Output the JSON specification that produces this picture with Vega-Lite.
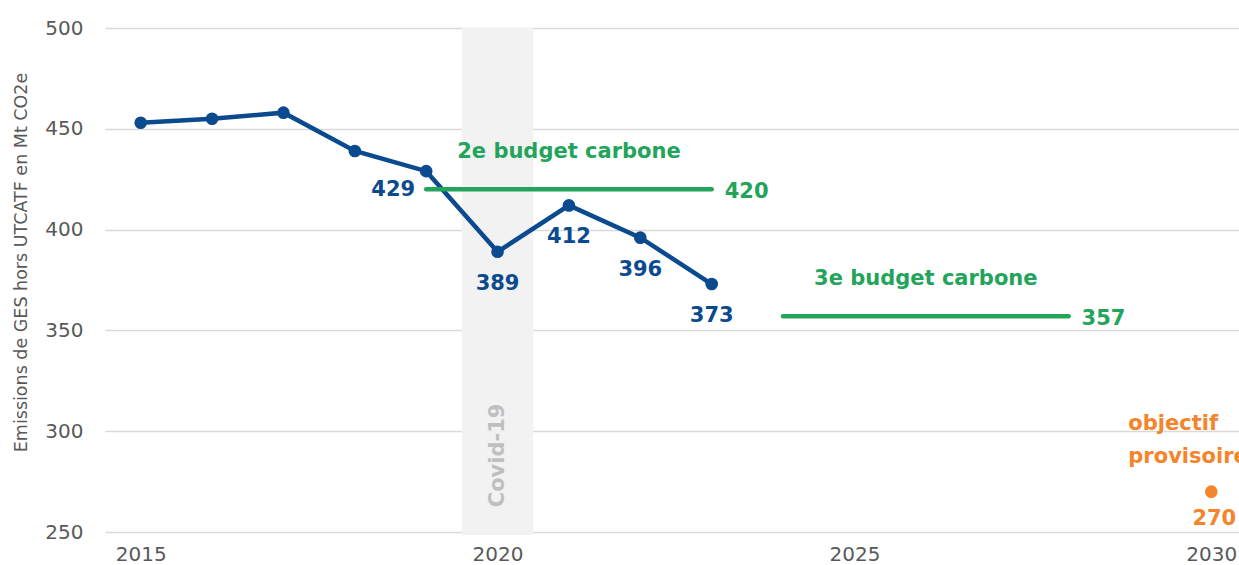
{
  "$schema": "https://vega.github.io/schema/vega-lite/v6.json",
  "autosize": {"type": "none"},
  "padding": {"left": 105, "top": 28, "right": 0, "bottom": 33},
  "width": 1142,
  "height": 504,
  "background": "white",
  "config": {
    "view": {"stroke": null},
    "font": "DejaVu Sans",
    "axis": {"labelFont": "DejaVu Sans", "titleFont": "DejaVu Sans", "labelColor": "#595959", "titleColor": "#595959"}
  },
  "datasets": {
    "emissions": [
      {"year": 2015, "value": 453},
      {"year": 2016, "value": 455},
      {"year": 2017, "value": 458},
      {"year": 2018, "value": 439},
      {"year": 2019, "value": 429},
      {"year": 2020, "value": 389},
      {"year": 2021, "value": 412},
      {"year": 2022, "value": 396},
      {"year": 2023, "value": 373}
    ],
    "budgets": [
      {"name": "2e budget carbone", "start": 2019, "end": 2023, "mid": 2021, "value": 420},
      {"name": "3e budget carbone", "start": 2024, "end": 2028, "mid": 2026, "value": 357}
    ],
    "covid": [{"start": 2019.5, "end": 2020.5, "mid": 2020, "top": 500, "bottom": 248.5, "labelY": 288, "label": "Covid-19"}],
    "objectif": [{"year": 2030, "value": 270, "label": "objectif provisoire"}]
  },
  "layer": [
    {
      "data": {"name": "covid"},
      "mark": {"type": "rect", "color": "#f2f2f2"},
      "encoding": {
        "x": {"field": "start", "type": "quantitative", "scale": {"domain": [2014.5, 2030.5], "nice": false, "zero": false},
              "axis": {"values": [2015, 2020, 2025, 2030], "format": "d", "grid": false, "domain": false, "ticks": false, "labelPadding": 12, "labelFontSize": 20, "title": null}},
        "x2": {"field": "end"},
        "y": {"field": "top", "type": "quantitative", "scale": {"domain": [250, 500], "nice": false, "zero": false},
              "axis": {"values": [250, 300, 350, 400, 450, 500], "grid": true, "gridColor": "#d9d9d9", "gridWidth": 1.5, "domain": false, "ticks": false, "labelPadding": 22, "labelFontSize": 20,
                       "title": "Emissions de GES hors UTCATF en Mt CO2e", "titleFontSize": 17.5, "titleFontWeight": "normal", "titlePadding": 14, "titleY": 234}},
        "y2": {"field": "bottom"}
      }
    },
    {
      "data": {"name": "covid"},
      "mark": {"type": "text", "color": "#bfbfbf", "fontWeight": "bold", "fontSize": 21, "angle": 270, "align": "center", "baseline": "middle"},
      "encoding": {
        "x": {"field": "mid", "type": "quantitative"},
        "y": {"field": "labelY", "type": "quantitative"},
        "text": {"field": "label"}
      }
    },
    {
      "data": {"name": "emissions"},
      "mark": {"type": "line", "color": "#0b4a8f", "strokeWidth": 4.5, "point": {"filled": true, "size": 160, "color": "#0b4a8f"}},
      "encoding": {
        "x": {"field": "year", "type": "quantitative"},
        "y": {"field": "value", "type": "quantitative"}
      }
    },
    {
      "data": {"name": "emissions"},
      "transform": [{"filter": "datum.year == 2019"}],
      "mark": {"type": "text", "color": "#0b4a8f", "fontWeight": "bold", "fontSize": 21, "align": "center", "baseline": "middle", "dx": -33, "dy": 19},
      "encoding": {
        "x": {"field": "year", "type": "quantitative"},
        "y": {"field": "value", "type": "quantitative"},
        "text": {"field": "value", "type": "quantitative"}
      }
    },
    {
      "data": {"name": "emissions"},
      "transform": [{"filter": "datum.year >= 2020"}],
      "mark": {"type": "text", "color": "#0b4a8f", "fontWeight": "bold", "fontSize": 21, "align": "center", "baseline": "middle", "dy": 32},
      "encoding": {
        "x": {"field": "year", "type": "quantitative"},
        "y": {"field": "value", "type": "quantitative"},
        "text": {"field": "value", "type": "quantitative"}
      }
    },
    {
      "data": {"name": "budgets"},
      "mark": {"type": "rule", "color": "#22a45a", "strokeWidth": 4.5, "strokeCap": "round"},
      "encoding": {
        "x": {"field": "start", "type": "quantitative"},
        "x2": {"field": "end"},
        "y": {"field": "value", "type": "quantitative"}
      }
    },
    {
      "data": {"name": "budgets"},
      "mark": {"type": "text", "color": "#22a45a", "fontWeight": "bold", "fontSize": 21, "align": "left", "baseline": "middle", "dx": 13, "dy": 3},
      "encoding": {
        "x": {"field": "end", "type": "quantitative"},
        "y": {"field": "value", "type": "quantitative"},
        "text": {"field": "value", "type": "quantitative"}
      }
    },
    {
      "data": {"name": "budgets"},
      "mark": {"type": "text", "color": "#22a45a", "fontWeight": "bold", "fontSize": 21, "align": "center", "baseline": "middle", "dy": -37},
      "encoding": {
        "x": {"field": "mid", "type": "quantitative"},
        "y": {"field": "value", "type": "quantitative"},
        "text": {"field": "name"}
      }
    },
    {
      "data": {"name": "objectif"},
      "mark": {"type": "point", "filled": true, "size": 160, "color": "#f5842a", "opacity": 1},
      "encoding": {
        "x": {"field": "year", "type": "quantitative"},
        "y": {"field": "value", "type": "quantitative"}
      }
    },
    {
      "data": {"name": "objectif"},
      "mark": {"type": "text", "color": "#f5842a", "fontWeight": "bold", "fontSize": 21, "align": "center", "baseline": "middle", "dx": 3, "dy": 27},
      "encoding": {
        "x": {"field": "year", "type": "quantitative"},
        "y": {"field": "value", "type": "quantitative"},
        "text": {"field": "value", "type": "quantitative"}
      }
    },
    {
      "data": {"name": "objectif"},
      "transform": [{"calculate": "split(datum.label, ' ')", "as": "lines"}],
      "mark": {"type": "text", "color": "#f5842a", "fontWeight": "bold", "fontSize": 21, "align": "left", "baseline": "middle", "dx": -83, "dy": -68, "lineHeight": 33},
      "encoding": {
        "x": {"field": "year", "type": "quantitative"},
        "y": {"field": "value", "type": "quantitative"},
        "text": {"field": "lines"}
      }
    }
  ]
}
